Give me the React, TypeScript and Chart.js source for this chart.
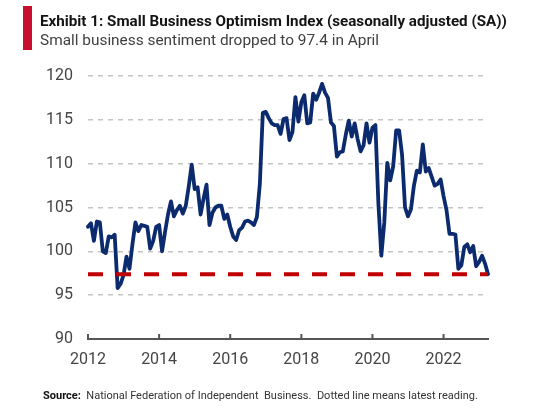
import React, { useEffect, useRef } from 'react';
import { Chart, registerables } from 'chart.js';

Chart.register(...registerables);

// ---- Data (monthly, seasonally adjusted index) ----
const MONTHS = ['01', '02', '03', '04', '05', '06', '07', '08', '09', '10', '11', '12'];

const v2012 = [102.8, 103.2, 101.2, 103.4, 103.3, 100.0, 99.8, 101.7, 101.6, 101.9, 95.8, 96.3];
const v2013 = [97.3, 99.4, 98.0, 100.8, 103.3, 102.3, 103.0, 102.9, 102.8, 100.3, 101.2, 102.8];
const v2014 = [103.0, 100.0, 102.2, 104.2, 105.7, 104.0, 104.7, 105.2, 104.3, 105.2, 107.4, 109.9];
const v2015 = [107.1, 107.3, 104.2, 106.0, 107.6, 103.0, 104.4, 105.0, 105.2, 105.2, 103.7, 104.2];
const v2016 = [102.8, 101.7, 101.3, 102.4, 102.7, 103.4, 103.5, 103.3, 103.0, 103.9, 107.7, 115.8];
const v2017 = [115.9, 115.2, 114.6, 114.4, 114.4, 113.4, 115.1, 115.2, 112.7, 113.6, 117.6, 114.8];
const v2018 = [117.0, 117.8, 114.6, 114.7, 118.0, 117.3, 118.1, 119.1, 118.1, 117.5, 114.7, 114.3];
const v2019 = [110.8, 111.3, 111.4, 113.3, 114.9, 113.1, 114.6, 112.8, 111.4, 112.1, 114.6, 112.4];
const v2020 = [114.1, 114.4, 105.5, 99.5, 103.3, 110.1, 108.1, 109.7, 113.8, 113.8, 111.0, 105.0];
const v2021 = [104.0, 104.8, 107.5, 109.2, 109.0, 112.2, 109.1, 109.5, 108.5, 107.5, 107.7, 108.2];
const v2022 = [106.3, 104.7, 102.0, 102.0, 101.9, 98.0, 98.4, 100.5, 100.8, 99.9, 100.6, 98.3];
const v2023 = [98.8, 99.5, 98.6, 97.4];

const SERIES_BY_YEAR: [string, number[]][] = [
  ['2012', v2012], ['2013', v2013], ['2014', v2014], ['2015', v2015],
  ['2016', v2016], ['2017', v2017], ['2018', v2018], ['2019', v2019],
  ['2020', v2020], ['2021', v2021], ['2022', v2022], ['2023', v2023],
];

const YEAR_TICKS = ['2012', '2014', '2016', '2018', '2020', '2022'];
const Y_MIN = 90;
const Y_MAX = 120;
const Y_STEP = 5;

const labels: string[] = [];
const values: number[] = [];
SERIES_BY_YEAR.forEach(([yr, arr]) => {
  arr.forEach((v, i) => {
    labels.push(`${yr}-${MONTHS[i]}`);
    values.push(v);
  });
});
const latest = values[values.length - 1];
const latestLine = values.map(() => latest);

const TICK_FONT = 'Roboto';

const tickMarks = {
  id: 'tickMarks',
  afterDraw(chart: any) {
    const xs = chart.scales.x;
    const { ctx, chartArea } = chart;
    ctx.save();
    ctx.strokeStyle = '#555555';
    ctx.lineWidth = 2;
    xs.ticks.forEach((t: any) => {
      const px = xs.getPixelForValue(t.value);
      ctx.beginPath();
      ctx.moveTo(px, chartArea.bottom);
      ctx.lineTo(px, chartArea.bottom - 5);
      ctx.stroke();
    });
    ctx.restore();
  },
};

export default function App() {
  const ref = useRef<HTMLCanvasElement | null>(null);

  useEffect(() => {
    document.body.style.margin = '0';
    const canvas = ref.current;
    if (!canvas) return;
    const chart = new Chart(canvas, {
      type: 'line',
      data: {
        labels,
        datasets: [
          {
            label: 'Latest reading',
            data: latestLine,
            borderColor: '#c00000',
            borderWidth: 4,
            borderDash: [15, 13],
            pointRadius: 0,
            fill: false,
            order: 1,
          },
          {
            label: 'Small Business Optimism Index',
            data: values,
            borderColor: '#0c2b6e',
            borderWidth: 3.8,
            borderJoinStyle: 'round',
            borderCapStyle: 'round',
            pointRadius: 0,
            fill: false,
            tension: 0,
            order: 2,
          },
        ],
      },
      options: {
        animation: false,
        responsive: false,
        maintainAspectRatio: false,
        devicePixelRatio: 1,
        layout: { padding: { top: 76, right: 71, bottom: 37, left: 0 } },
        plugins: {
          legend: { display: false },
          tooltip: { enabled: false },
        },
        scales: {
          x: {
            type: 'category',
            offset: false,
            grid: { display: false, drawTicks: false },
            border: { display: true, color: '#555555', width: 2 },
            afterBuildTicks: (s: any) => {
              s.ticks = labels
                .map((l, i) => ({ value: i, label: l }))
                .filter((t) => t.label.endsWith('-01') && YEAR_TICKS.includes(t.label.slice(0, 4)));
            },
            afterFit: (s: any) => {
              s.height = 40;
            },
            ticks: {
              autoSkip: false,
              maxRotation: 0,
              padding: 11,
              color: '#454545',
              font: { family: TICK_FONT, size: 16 },
              callback: (v: any) => labels[v as number].slice(0, 4),
            },
          },
          y: {
            min: Y_MIN,
            max: Y_MAX,
            afterFit: (s: any) => {
              s.width = 88;
            },
            ticks: {
              stepSize: Y_STEP,
              padding: 15,
              color: '#454545',
              font: { family: TICK_FONT, size: 16 },
            },
            grid: {
              drawTicks: false,
              lineWidth: 1.5,
              color: (c: any) => (c.tick && c.tick.value === Y_MIN ? 'rgba(0,0,0,0)' : '#c4c4c4'),
            },
            border: { display: false, dash: [5, 5] },
          },
        },
      },
      plugins: [tickMarks],
    } as any);
    return () => chart.destroy();
  }, []);

  return (
    <div style={{ position: 'relative', width: 559, height: 416, overflow: 'hidden', background: '#ffffff' }}>
      <canvas ref={ref} width={559} height={416} style={{ position: 'absolute', left: 0, top: 0 }} />
      <div style={{ position: 'absolute', left: 23, top: 6, width: 9, height: 44, background: '#c8102e' }} />
      <div
        style={{
          position: 'absolute', left: 40, top: 13, whiteSpace: 'nowrap',
          font: 'bold 15.2px Roboto', lineHeight: '16px', color: '#141414',
        }}
      >
        Exhibit 1: Small Business Optimism Index (seasonally adjusted (SA))
      </div>
      <div
        style={{
          position: 'absolute', left: 40, top: 33, whiteSpace: 'nowrap',
          font: '15.4px Roboto', lineHeight: '15px', color: '#404040',
        }}
      >
        Small business sentiment dropped to 97.4 in April
      </div>
      <div
        style={{
          position: 'absolute', left: 43, top: 390, whiteSpace: 'pre',
          font: '11px Roboto', lineHeight: '12px', color: '#333333',
        }}
      >
        <b style={{ color: '#111' }}>Source:</b>{'  National Federation of Independent  Business.  Dotted line means latest reading.'}
      </div>
    </div>
  );
}
